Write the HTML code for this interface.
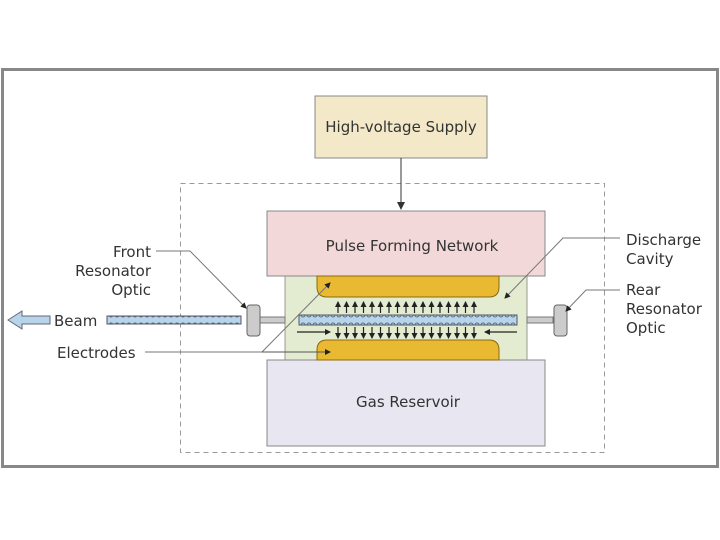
<!DOCTYPE html>
<html><head><style>body{margin:0;background:#fff}svg{display:block}text{font-family:"DejaVu Sans","Liberation Sans",sans-serif;font-size:15px;fill:#333}</style></head><body>
<svg width="720" height="540" viewBox="0 0 720 540">
<defs>
<marker id="a" markerWidth="8" markerHeight="8" refX="7" refY="4" orient="auto" markerUnits="userSpaceOnUse"><path d="M0,0 L8,4 L0,8z" fill="#333"/></marker>
<marker id="s" markerWidth="6" markerHeight="6" refX="5" refY="3" orient="auto" markerUnits="userSpaceOnUse"><path d="M0,0 L6,3 L0,6z" fill="#222"/></marker>
<pattern id="p" width="6" height="10" patternUnits="userSpaceOnUse"><rect width="6" height="10" fill="#b8d4ea"/><circle cx="3" cy="5" r="2" fill="none" stroke="#5a6e80" stroke-width="1"/></pattern>
</defs>
<rect x="2.5" y="69.5" width="715" height="397" fill="#fff" stroke="#888" stroke-width="3"/>
<rect x="315" y="96" width="172" height="62" fill="#f3e8c8" stroke="#888"/>
<text x="401" y="132" text-anchor="middle">High-voltage Supply</text>
<rect x="180.5" y="183.5" width="424" height="269" fill="none" stroke="#999" stroke-dasharray="5,4"/>
<line x1="401" y1="158" x2="401" y2="209" stroke="#333" marker-end="url(#a)"/>
<rect x="285" y="276" width="242" height="84" fill="#e3ecd0" stroke="#999"/>
<rect x="267" y="211" width="278" height="65" fill="#f2d8d8" stroke="#888"/>
<text x="412" y="251" text-anchor="middle">Pulse Forming Network</text>
<rect x="267" y="360" width="278" height="86" fill="#e8e6f0" stroke="#888"/>
<text x="408" y="407" text-anchor="middle">Gas Reservoir</text>
<path d="M317,276 H499 V287 Q499,297 489,297 H327 Q317,297 317,287 Z" fill="#eab932" stroke="#8a6a10"/>
<path d="M327,340 H489 Q499,340 499,350 V360 H317 V350 Q317,340 327,340 Z" fill="#eab932" stroke="#8a6a10"/>
<rect x="299" y="315" width="218" height="10" fill="url(#p)" stroke="#556"/>
<rect x="107" y="316" width="134" height="8" fill="url(#p)" stroke="#556"/>
<g stroke="#222" stroke-width="1.2">
<line x1="338" y1="313" x2="338" y2="302" marker-end="url(#s)"/><line x1="338" y1="327" x2="338" y2="338" marker-end="url(#s)"/>
<line x1="346.5" y1="313" x2="346.5" y2="302" marker-end="url(#s)"/><line x1="346.5" y1="327" x2="346.5" y2="338" marker-end="url(#s)"/>
<line x1="355" y1="313" x2="355" y2="302" marker-end="url(#s)"/><line x1="355" y1="327" x2="355" y2="338" marker-end="url(#s)"/>
<line x1="363.5" y1="313" x2="363.5" y2="302" marker-end="url(#s)"/><line x1="363.5" y1="327" x2="363.5" y2="338" marker-end="url(#s)"/>
<line x1="372" y1="313" x2="372" y2="302" marker-end="url(#s)"/><line x1="372" y1="327" x2="372" y2="338" marker-end="url(#s)"/>
<line x1="380.5" y1="313" x2="380.5" y2="302" marker-end="url(#s)"/><line x1="380.5" y1="327" x2="380.5" y2="338" marker-end="url(#s)"/>
<line x1="389" y1="313" x2="389" y2="302" marker-end="url(#s)"/><line x1="389" y1="327" x2="389" y2="338" marker-end="url(#s)"/>
<line x1="397.5" y1="313" x2="397.5" y2="302" marker-end="url(#s)"/><line x1="397.5" y1="327" x2="397.5" y2="338" marker-end="url(#s)"/>
<line x1="406" y1="313" x2="406" y2="302" marker-end="url(#s)"/><line x1="406" y1="327" x2="406" y2="338" marker-end="url(#s)"/>
<line x1="414.5" y1="313" x2="414.5" y2="302" marker-end="url(#s)"/><line x1="414.5" y1="327" x2="414.5" y2="338" marker-end="url(#s)"/>
<line x1="423" y1="313" x2="423" y2="302" marker-end="url(#s)"/><line x1="423" y1="327" x2="423" y2="338" marker-end="url(#s)"/>
<line x1="431.5" y1="313" x2="431.5" y2="302" marker-end="url(#s)"/><line x1="431.5" y1="327" x2="431.5" y2="338" marker-end="url(#s)"/>
<line x1="440" y1="313" x2="440" y2="302" marker-end="url(#s)"/><line x1="440" y1="327" x2="440" y2="338" marker-end="url(#s)"/>
<line x1="448.5" y1="313" x2="448.5" y2="302" marker-end="url(#s)"/><line x1="448.5" y1="327" x2="448.5" y2="338" marker-end="url(#s)"/>
<line x1="457" y1="313" x2="457" y2="302" marker-end="url(#s)"/><line x1="457" y1="327" x2="457" y2="338" marker-end="url(#s)"/>
<line x1="465.5" y1="313" x2="465.5" y2="302" marker-end="url(#s)"/><line x1="465.5" y1="327" x2="465.5" y2="338" marker-end="url(#s)"/>
<line x1="474" y1="313" x2="474" y2="302" marker-end="url(#s)"/><line x1="474" y1="327" x2="474" y2="338" marker-end="url(#s)"/>
<line x1="297" y1="332" x2="330" y2="332" marker-end="url(#s)"/>
<line x1="517" y1="332" x2="485" y2="332" marker-end="url(#s)"/>
</g>
<rect x="260" y="317" width="25" height="6" fill="#ccc" stroke="#777"/>
<rect x="527" y="317" width="26" height="6" fill="#ccc" stroke="#777"/>
<rect x="247" y="305" width="13" height="31" rx="3" fill="#ccc" stroke="#666"/>
<rect x="554" y="305" width="13" height="31" rx="3" fill="#ccc" stroke="#666"/>
<path d="M8,320 L22,311 V316 H50 V324 H22 V329 Z" fill="#b8d4ea" stroke="#667"/>
<text x="54" y="326">Beam</text>
<text x="151" y="257" text-anchor="end">Front</text>
<text x="151" y="276" text-anchor="end">Resonator</text>
<text x="151" y="295" text-anchor="end">Optic</text>
<text x="57" y="358">Electrodes</text>
<text x="626" y="245">Discharge</text>
<text x="626" y="264">Cavity</text>
<text x="626" y="295">Rear</text>
<text x="626" y="314">Resonator</text>
<text x="626" y="333">Optic</text>
<g fill="none" stroke-width="1">
<polyline points="156,251 190,251 246,308" stroke="#777" marker-end="url(#s)"/>
<polyline points="145,352 262,352 330,283" stroke="#777" marker-end="url(#s)"/>
<line x1="262" y1="352" x2="330" y2="352" stroke="#555" marker-end="url(#s)"/>
<polyline points="620,238 563,238 505,298" stroke="#777" marker-end="url(#s)"/>
<polyline points="620,290 586,290 566,311" stroke="#777" marker-end="url(#s)"/>
</g>
</svg>
</body></html>
